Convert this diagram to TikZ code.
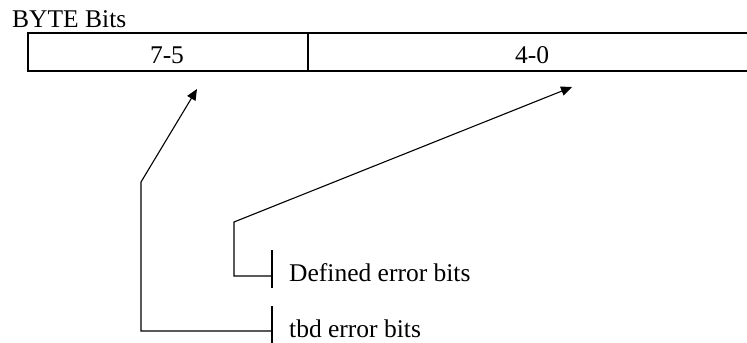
\documentclass[tikz,border=0pt]{standalone}
\usepackage{fontspec}
\setmainfont{Liberation Serif}
\usetikzlibrary{arrows.meta}
\begin{document}
\begin{tikzpicture}[x=1bp,y=-1bp,
  lbl/.style={inner sep=0pt,font=\fontsize{25.5bp}{30bp}\selectfont},
  frame/.style={line width=1.8bp},
  conn/.style={line width=1.1bp},
  arr/.style={conn,-{Triangle[length=11bp,width=9.5bp]}},
  tick/.style={line width=1.1bp}]
\useasboundingbox (0,0) rectangle (747,342);
% title
\node[lbl,anchor=base west] (title) at (12,27) {BYTE Bits};
% register frame
\coordinate (fTL) at (28,33);
\coordinate (fBL) at (28,71);
\coordinate (fTR) at (752,33);
\coordinate (fBR) at (752,71);
\coordinate (divT) at (308,33);
\coordinate (divB) at (308,71);
\draw[frame] (fTR) -- (fTL) -- (fBL) -- (fBR);
\draw[frame] (divT) -- (divB);
\node[lbl,anchor=base] (hi) at (167,63.5) {7-5};
\node[lbl,anchor=base] (lo) at (532,63.5) {4-0};
% arrow tips
\coordinate (tipA) at (197,89);
\coordinate (tipB) at (572,87);
% labels
\node[lbl,anchor=base west] (deflab) at (289,281) {Defined error bits};
\node[lbl,anchor=base west] (tbdlab) at (289,337) {tbd error bits};
% ticks
\coordinate (dT) at (272,250);
\coordinate (dB) at (272,288);
\coordinate (tT) at (272,306);
\coordinate (tB) at (272,345);
\draw[tick] (dT) -- (dB);
\draw[tick] (tT) -- (tB);
% connectors
\coordinate (dEnd) at (272,276);
\coordinate (dC1) at (234,276);
\coordinate (dC2) at (234,222);
\draw[arr] (dEnd) -- (dC1) -- (dC2) -- (tipB);
\coordinate (tEnd) at (272,331);
\coordinate (tC1) at (141,331);
\coordinate (tC2) at (141,182);
\draw[arr] (tEnd) -- (tC1) -- (tC2) -- (tipA);
\end{tikzpicture}
\end{document}
